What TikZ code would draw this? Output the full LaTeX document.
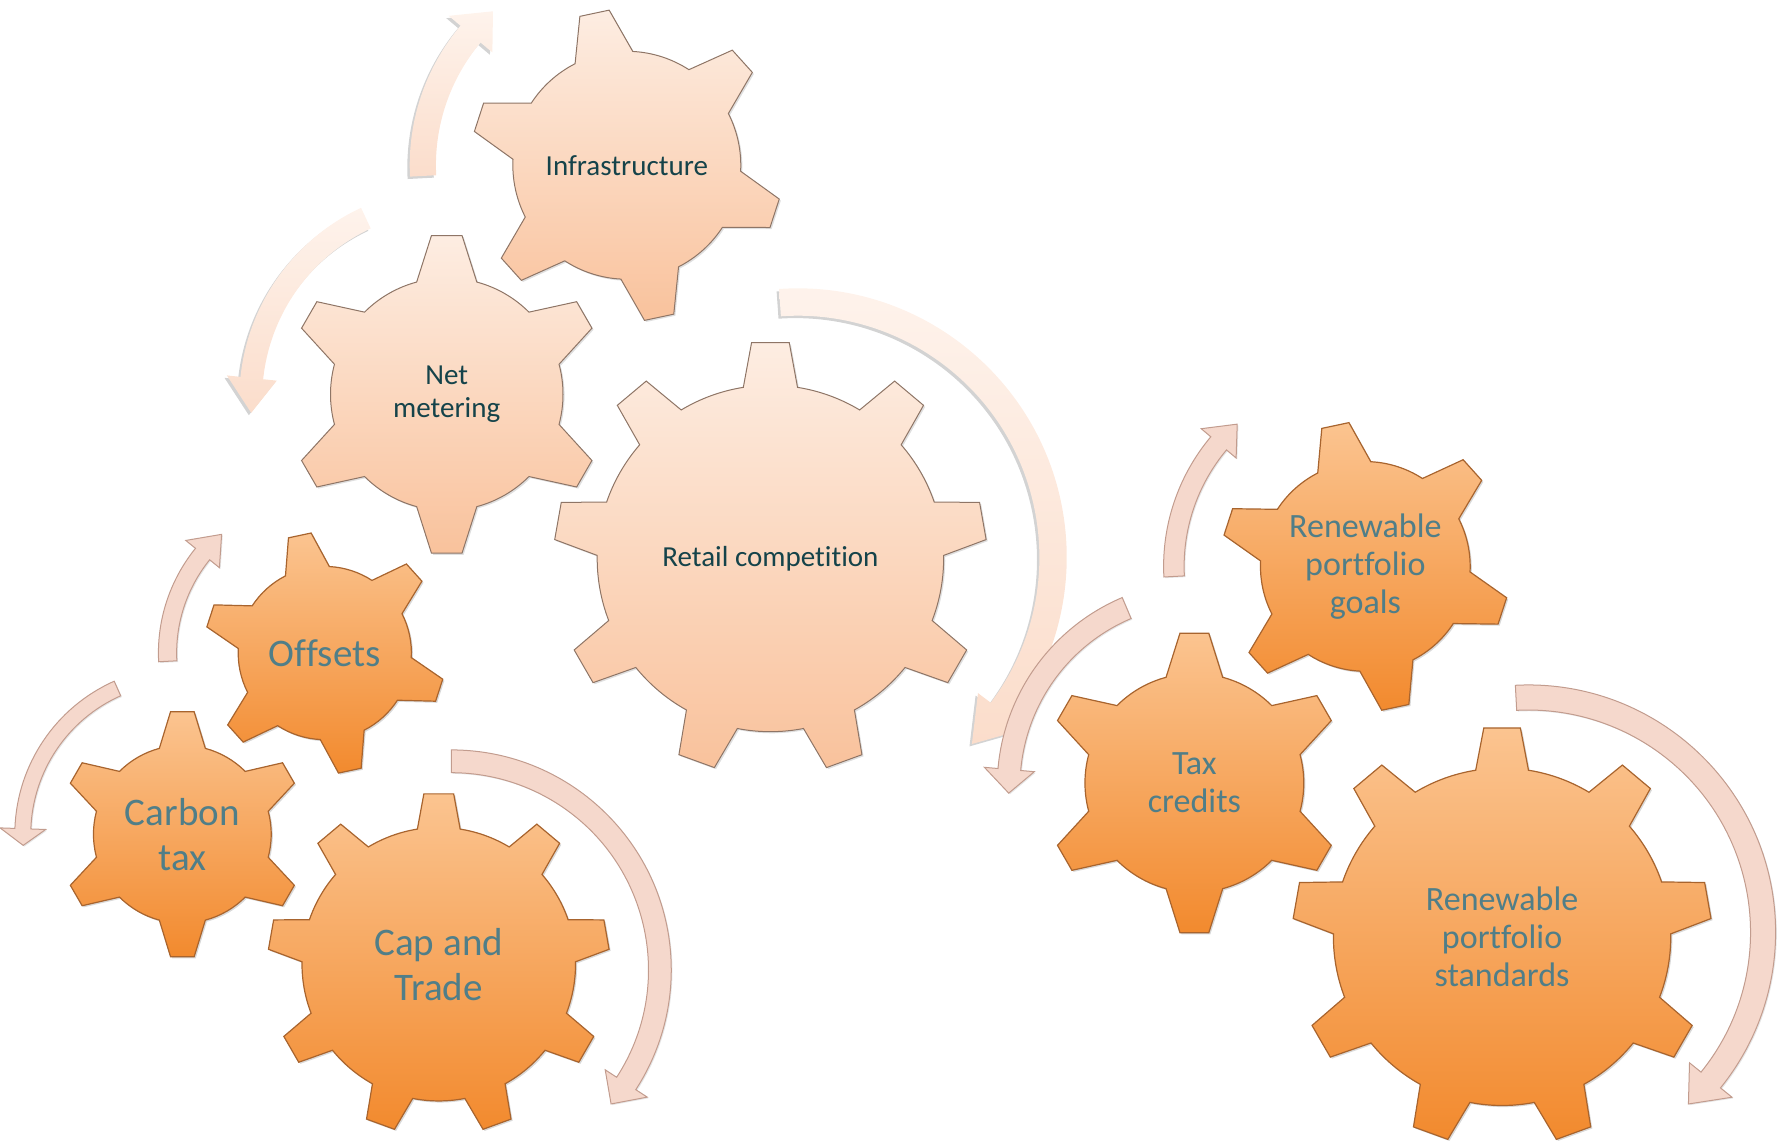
\documentclass[tikz,border=0pt]{standalone}
\usepackage{fontspec}
\setmainfont{Carlito}[Ligatures=NoCommon]
\usetikzlibrary{shadows}

\definecolor{lgtop}{HTML}{FDEDE2}
\definecolor{lgbot}{HTML}{F9C29C}
\definecolor{lgedge}{HTML}{8E7566}
\definecolor{ogtop}{HTML}{FBC490}
\definecolor{ogbot}{HTML}{F28A2E}
\definecolor{ogedge}{HTML}{A8642E}
\definecolor{artop}{HTML}{FEF3EC}
\definecolor{arbot}{HTML}{FBDDCB}
\definecolor{pinkfill}{HTML}{F5D8CC}
\definecolor{pinkedge}{HTML}{C29C8E}
\definecolor{darkteal}{HTML}{15434A}
\definecolor{greyteal}{HTML}{507E88}

% gear: centre, body radius, tip radius, teeth, first tooth angle, base half angle, tip half angle, style
\newcommand\gear[8]{%
  \begin{scope}[shift={#1}]
    \path[#8] (#5-#6:#2)
      \foreach \k [evaluate=\k as \ga using #5+(\k-1)*360/#4] in {1,...,#4}{
        -- (\ga-#7:#3) -- (\ga+#7:#3) -- (\ga+#6:#2)
        arc[start angle=\ga+#6, end angle=\ga+360/#4-#6, radius=#2]
      } -- cycle;
  \end{scope}}

% turning arrow: centre, mid radius, tail angle, head base angle, tip angle, half band, half head, style
\newcommand\turnarrow[8]{%
  \begin{scope}[shift={#1}]
    \pgfmathsetmacro\arrout{#2+#6}
    \pgfmathsetmacro\arrin{#2-#6}
    \pgfmathsetmacro\headout{#2+#7}
    \pgfmathsetmacro\headin{#2-#7}
    \path[#8] (#3:\arrout) arc[start angle=#3, end angle=#4, radius=\arrout]
      -- (#4:\headout) -- (#5:#2) -- (#4:\headin) -- (#4:\arrin)
      arc[start angle=#4, end angle=#3, radius=\arrin] -- cycle;
  \end{scope}}

\tikzset{
  lightgear/.style={top color=lgtop, bottom color=lgbot, draw=lgedge, line width=0.5pt,
    drop shadow={opacity=0.25, shadow xshift=0.8pt, shadow yshift=-0.8pt}},
  orangegear/.style={top color=ogtop, bottom color=ogbot, draw=ogedge, line width=0.6pt,
    drop shadow={opacity=0.3, shadow xshift=0.8pt, shadow yshift=-0.8pt}},
  lightarrow/.style={top color=artop, bottom color=arbot,
    drop shadow={opacity=0.35, shadow xshift=-1.2pt, shadow yshift=-1.2pt}},
  pinkarrow/.style={fill=pinkfill, draw=pinkedge, line width=0.5pt,
    drop shadow={opacity=0.2, shadow xshift=0.6pt, shadow yshift=-0.6pt}},
  lighttext/.style={text=darkteal, align=center, font=\fontsize{14.5}{16.5}\selectfont},
  bigtext/.style={text=greyteal, align=center, font=\fontsize{19.5}{22.5}\selectfont},
  midtext/.style={text=greyteal, align=center, font=\fontsize{17}{19}\selectfont}
}

\begin{document}
\begin{tikzpicture}[x=0.02cm, y=0.02cm]
  \useasboundingbox (0,0) rectangle (1568,-1005);

  % upper group
  \gear{(550,-145)}{100}{137}{6}{102}{15}{5.5}{lightgear}
  \gear{(392,-346)}{102}{140}{6}{90}{15}{5.5}{lightgear}
  \gear{(676,-490)}{152}{190}{9}{90}{9}{5}{lightgear}

  % left group
  \gear{(285,-573)}{76}{106}{6}{102}{15}{5.5}{orangegear}
  \gear{(160,-732)}{78}{108}{6}{90}{15}{5.5}{orangegear}
  \gear{(385,-846)}{120}{150}{9}{90}{9}{5}{orangegear}

  % right group
  \gear{(1198,-497)}{92}{127}{6}{102}{15}{5.5}{orangegear}
  \gear{(1048,-687)}{96}{132}{6}{90}{15}{5.5}{orangegear}
  \gear{(1318,-822)}{148}{184}{9}{90}{9}{5}{orangegear}

  % turning arrows
  \turnarrow{(550,-145)}{179}{183}{140}{131}{11.5}{25}{lightarrow}
  \turnarrow{(395,-350)}{175}{115}{174}{184}{10}{22}{lightarrow}
  \turnarrow{(700,-489)}{224}{94}{-37}{-47}{12}{26}{lightarrow}
  \turnarrow{(285,-573)}{138}{183}{141}{131}{8}{19}{pinkarrow}
  \turnarrow{(160,-732)}{140}{114}{178}{184}{7}{20}{pinkarrow}
  \turnarrow{(396,-851)}{183}{90}{-33}{-40}{10}{22}{pinkarrow}
  \turnarrow{(1198,-497)}{168}{183}{140}{132}{9}{20}{pinkarrow}
  \turnarrow{(1055,-690)}{170}{113}{175}{182}{10}{22}{pinkarrow}
  \turnarrow{(1341,-818)}{206}{93}{-39}{-47}{11}{24}{pinkarrow}

  % labels
  \node[lighttext] (infra) at (550,-145) {Infrastructure};
  \node[lighttext] (netmeter) at (392,-346) {Net\\metering};
  \node[lighttext] (retail) at (676,-490) {Retail competition};
  \node[bigtext] (offsets) at (285,-573) {Offsets};
  \node[bigtext] (carbon) at (160,-732) {Carbon\\tax};
  \node[bigtext] (captrade) at (385,-846) {Cap and\\Trade};
  \node[midtext] (rpgoals) at (1198,-497) {Renewable\\portfolio\\goals};
  \node[midtext] (taxcred) at (1048,-687) {Tax\\credits};
  \node[midtext] (rpstd) at (1318,-822) {Renewable\\portfolio\\standards};
\end{tikzpicture}
\end{document}
